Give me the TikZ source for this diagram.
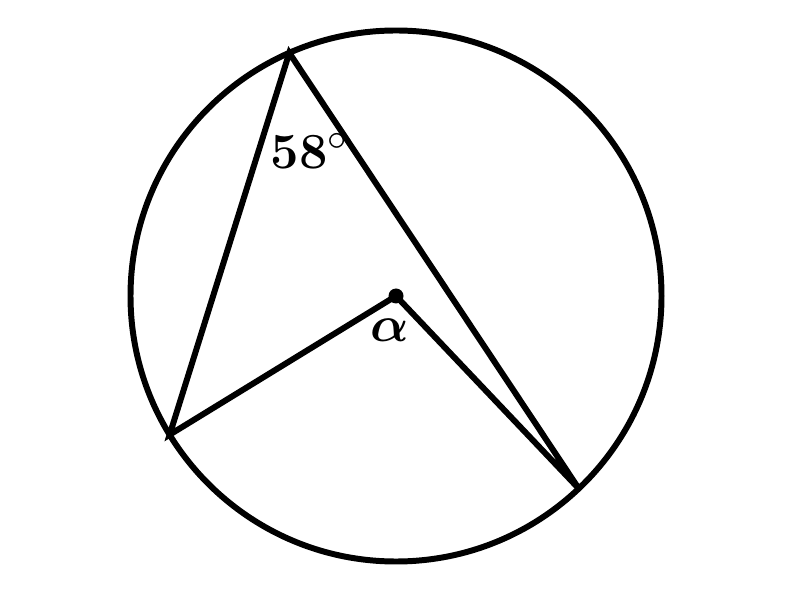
\documentclass[tikz,border=0pt]{standalone}
\usepackage{amsmath}
\usepackage{bm}
\usetikzlibrary{calc}
\begin{document}
\begin{tikzpicture}[line width=1.7pt, line join=miter, line cap=round,
  lbl/.style={inner sep=0pt, font=\fontsize{15}{17}\selectfont}]
\useasboundingbox (0,0) rectangle (8,5.89);
\coordinate (O) at (3.96,2.93);
\draw (O) circle (2.655);
\coordinate (A) at ($(O)+(113.7:2.655)$);
\coordinate (B) at ($(O)+(211.5:2.655)$);
\coordinate (C) at ($(O)+(313.5:2.655)$);
\draw (B) -- (A) -- (C) -- (O) -- cycle;
\fill (O) circle (0.075);
\node[lbl, anchor=base west] (t58) at (2.68,4.20) {$\mathbf{58^\circ}$};
\node[lbl, anchor=base west] (ta) at (3.68,2.47) {$\bm{\alpha}$};
\end{tikzpicture}
\end{document}
